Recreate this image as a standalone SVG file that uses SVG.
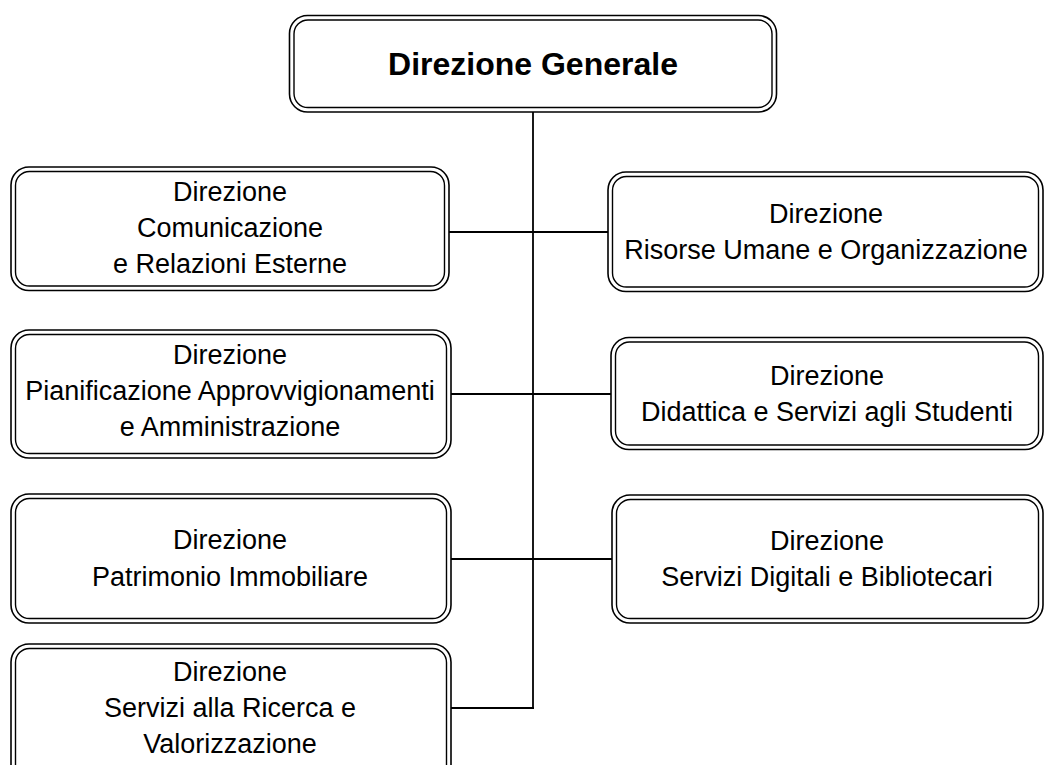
<svg xmlns="http://www.w3.org/2000/svg" width="1044" height="765" viewBox="0 0 1044 765">
<style>
.o{fill:#fff;stroke:#000;stroke-width:1.6}
.i{fill:none;stroke:#000;stroke-width:1.4}
.t{font-family:"Liberation Sans",Arial,sans-serif;font-size:27px;fill:#000;text-anchor:middle}
.b{font-weight:bold;font-size:32px}
.c{stroke:#000;stroke-width:1.8;fill:none}
</style>
<rect width="1044" height="765" fill="#fff"/>
<g id="connectors">
<line class="c" x1="533" y1="112" x2="533" y2="709"/>
<line class="c" x1="449" y1="232" x2="608" y2="232"/>
<line class="c" x1="450" y1="394" x2="611" y2="394"/>
<line class="c" x1="451" y1="559" x2="612" y2="559"/>
<line class="c" x1="451" y1="708" x2="534" y2="708"/>
</g>
<g id="n0">
<rect class="o" x="289.5" y="15.5" width="487" height="96.5" rx="18"/>
<rect class="i" x="294" y="20" width="478" height="87.5" rx="14"/>
<text class="t b" x="533" y="75">Direzione Generale</text>
</g>
<g id="n1">
<rect class="o" x="11" y="167" width="438" height="123.5" rx="18"/>
<rect class="i" x="15.5" y="171.5" width="429" height="114.5" rx="14"/>
<text class="t" x="230" y="201">Direzione</text>
<text class="t" x="230" y="237">Comunicazione</text>
<text class="t" x="230" y="273">e Relazioni Esterne</text>
</g>
<g id="n2">
<rect class="o" x="11" y="330" width="440" height="128" rx="18"/>
<rect class="i" x="15.5" y="334.5" width="431" height="119" rx="14"/>
<text class="t" x="230" y="364">Direzione</text>
<text class="t" x="230" y="400">Pianificazione Approvvigionamenti</text>
<text class="t" x="230" y="436">e Amministrazione</text>
</g>
<g id="n3">
<rect class="o" x="11" y="494" width="440" height="129" rx="18"/>
<rect class="i" x="15.5" y="498.5" width="431" height="120" rx="14"/>
<text class="t" x="230" y="549">Direzione</text>
<text class="t" x="230" y="586">Patrimonio Immobiliare</text>
</g>
<g id="n4">
<rect class="o" x="11" y="644" width="440" height="140" rx="18"/>
<rect class="i" x="15.5" y="648.5" width="431" height="131" rx="14"/>
<text class="t" x="230" y="681">Direzione</text>
<text class="t" x="230" y="717">Servizi alla Ricerca e</text>
<text class="t" x="230" y="753">Valorizzazione</text>
</g>
<g id="n5">
<rect class="o" x="608" y="172" width="435" height="119.5" rx="18"/>
<rect class="i" x="612.5" y="176.5" width="426" height="110.5" rx="14"/>
<text class="t" x="826" y="223">Direzione</text>
<text class="t" x="826" y="259">Risorse Umane e Organizzazione</text>
</g>
<g id="n6">
<rect class="o" x="611" y="337.5" width="432" height="112" rx="18"/>
<rect class="i" x="615.5" y="342" width="423" height="103" rx="14"/>
<text class="t" x="827" y="385">Direzione</text>
<text class="t" x="827" y="421">Didattica e Servizi agli Studenti</text>
</g>
<g id="n7">
<rect class="o" x="612" y="495" width="431" height="128" rx="18"/>
<rect class="i" x="616.5" y="499.5" width="422" height="119" rx="14"/>
<text class="t" x="827" y="550">Direzione</text>
<text class="t" x="827" y="586">Servizi Digitali e Bibliotecari</text>
</g>
</svg>
